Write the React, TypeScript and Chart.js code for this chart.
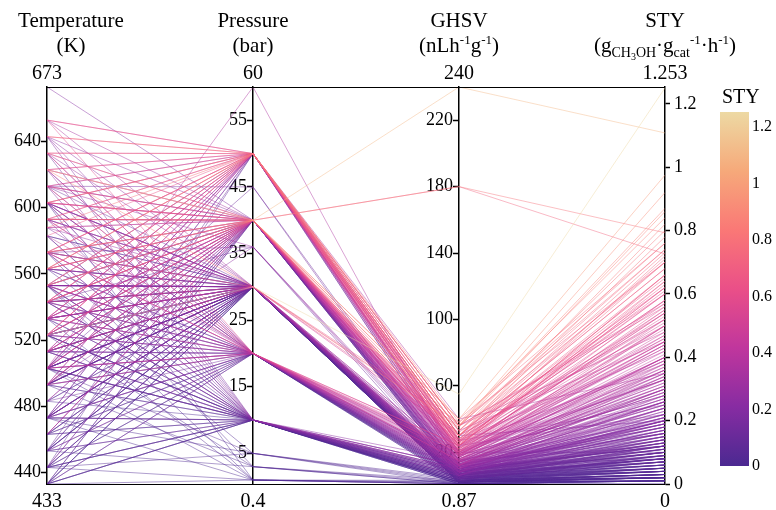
import React, { useEffect, useRef } from 'react';
import { Chart, registerables } from 'chart.js';

Chart.register(...registerables);

const FONT = "'Liberation Serif', 'Times New Roman', Times, serif";

// ---- axes ----
const axisTitles = ['Temperature', 'Pressure', 'GHSV', 'STY'];
const temperatureRange = [433, 673];
const pressureRange = [0.4, 60];
const ghsvRange = [0.87, 240];
const styRange = [0, 1.253];
const rangeTopLabels = ['673', '60', '240', '1.253'];
const rangeBottomLabels = ['433', '0.4', '0.87', '0'];
const temperatureTicks = [440, 480, 520, 560, 600, 640];
const pressureTicks = [5, 15, 25, 35, 45, 55];
const ghsvTicks = [20, 60, 100, 140, 180, 220];
const styTicks = [0, 0.2, 0.4, 0.6, 0.8, 1, 1.2];
const colorbarTicks = [0, 0.2, 0.4, 0.6, 0.8, 1, 1.2];

// ---- runs (one line per run) ----
const temperatureK = [
  503, 653, 633, 633, 623, 613, 603, 603, 593, 588,
  573, 573, 563, 553, 553, 543, 533, 533, 523, 513,
  503, 503, 493, 473, 473, 453, 443, 553, 523, 613,
  503, 673, 643, 623, 623, 603, 593, 593, 593, 588,
  573, 573, 563, 553, 553, 553, 543, 543, 533, 533,
  523, 523, 523, 513, 513, 503, 503, 493, 493, 473,
  473, 463, 453, 443, 433, 613, 633, 603, 588, 563,
  543, 573, 543, 493, 613, 623, 603, 603, 593, 588,
  573, 573, 563, 553, 553, 553, 543, 543, 533, 533,
  533, 523, 523, 523, 513, 513, 513, 503, 503, 503,
  493, 493, 493, 473, 473, 473, 463, 453, 453, 443,
  443, 433, 433, 643, 653, 613, 633, 583, 563, 543,
  523, 553, 533, 503, 513, 653, 633, 623, 613, 603,
  603, 593, 573, 573, 563, 553, 553, 543, 533, 533,
  523, 523, 513, 503, 503, 493, 493, 473, 473, 463,
  453, 443, 433, 588, 543, 643, 623, 603, 593, 573,
  573, 553, 553, 543, 533, 533, 523, 523, 513, 513,
  503, 503, 493, 493, 473, 473, 463, 453, 443, 443,
  433, 433, 553, 603, 513, 553, 503, 473, 443, 573,
  523, 493, 453, 603, 553, 533, 503, 473, 443, 433,
  563, 553, 543, 533, 523, 513, 503, 493, 483, 473,
  603, 593, 573, 553, 543, 523, 513, 503, 493, 463,
  623, 613, 603, 593, 573, 563, 553, 543, 533, 523,
  513, 503, 493, 483, 463, 643, 623, 603, 593, 573,
  563, 543, 523, 513, 493, 633, 613, 593, 573, 553,
  533, 513, 503, 483, 453, 583, 543, 523, 503, 463,
  // group A
  573, 563, 553, 543, 533, 523, 513, 503, 493, 483,
  473, 463, 453, 443, 433, 603, 593, 583, 553, 533,
  523, 503, 493, 473, 453,
  // group B
  653, 633, 613, 603, 593, 573, 563, 553, 543, 533,
  523, 513, 503, 493, 483, 473, 463, 453, 443, 433,
  // group C
  643, 623, 603, 583, 563, 553, 543, 523, 513, 503,
  493, 473, 463, 443, 433,
  // group D
  633, 613, 583, 563, 543, 523, 503, 483, 473, 453, 443, 433,
  // group E
  653, 643, 613, 583, 563, 543, 533, 503,
];

const pressureBar = [
  60, 50, 50, 50, 50, 50, 50, 50, 50, 50,
  50, 50, 50, 50, 50, 50, 50, 50, 50, 50,
  50, 50, 50, 50, 50, 50, 50, 50, 50, 45,
  45, 40, 40, 40, 40, 40, 40, 40, 40, 40,
  40, 40, 40, 40, 40, 40, 40, 40, 40, 40,
  40, 40, 40, 40, 40, 40, 40, 40, 40, 40,
  40, 40, 40, 40, 40, 40, 40, 40, 40, 40,
  40, 36, 36, 36, 36, 30, 30, 30, 30, 30,
  30, 30, 30, 30, 30, 30, 30, 30, 30, 30,
  30, 30, 30, 30, 30, 30, 30, 30, 30, 30,
  30, 30, 30, 30, 30, 30, 30, 30, 30, 30,
  30, 30, 30, 30, 30, 30, 30, 30, 30, 30,
  30, 30, 30, 30, 30, 20, 20, 20, 20, 20,
  20, 20, 20, 20, 20, 20, 20, 20, 20, 20,
  20, 20, 20, 20, 20, 20, 20, 20, 20, 20,
  20, 20, 20, 20, 20, 10, 10, 10, 10, 10,
  10, 10, 10, 10, 10, 10, 10, 10, 10, 10,
  10, 10, 10, 10, 10, 10, 10, 10, 10, 10,
  10, 10, 10, 10, 10, 5, 5, 5, 5, 3,
  3, 3, 3, 1, 1, 1, 1, 1, 1, 1,
  30, 30, 30, 30, 30, 30, 30, 30, 30, 30,
  30, 30, 30, 30, 30, 30, 30, 30, 30, 30,
  40, 40, 40, 40, 40, 40, 40, 40, 40, 40,
  40, 40, 40, 40, 40, 50, 50, 50, 50, 50,
  50, 50, 50, 50, 50, 20, 20, 20, 20, 20,
  20, 20, 20, 20, 20, 10, 10, 10, 10, 10,
  // group A
  30, 30, 30, 30, 30, 30, 30, 30, 30, 30,
  30, 30, 30, 30, 30, 30, 30, 30, 30, 30,
  30, 30, 30, 30, 30,
  // group B
  40, 40, 40, 40, 40, 40, 40, 40, 40, 40,
  40, 40, 40, 40, 40, 40, 40, 40, 40, 40,
  // group C
  20, 20, 20, 20, 20, 20, 20, 20, 20, 20,
  20, 20, 20, 20, 20,
  // group D
  10, 10, 10, 10, 10, 10, 10, 10, 10, 10, 10, 10,
  // group E
  50, 50, 50, 50, 50, 50, 50, 50,
];

const ghsv = [
  12, 24, 30, 20, 36, 27, 24, 40, 18, 30,
  24, 36, 20, 27, 15, 30, 24, 18, 36, 20,
  27, 12, 24, 15, 30, 20, 12, 36, 30, 6,
  10, 10, 12, 240, 18, 15, 24, 180, 180, 20,
  27, 36, 30, 12, 24, 40, 9, 20, 15, 27,
  6, 18, 33, 12, 24, 9, 20, 15, 30, 6,
  12, 18, 9, 15, 6, 24, 36, 30, 12, 8,
  40, 8, 5, 10, 12, 35, 8, 4, 6, 10,
  38, 5, 3, 8, 12, 2, 6, 32, 4, 10,
  6, 55, 8, 3, 5, 12, 36, 2, 6, 10,
  4, 8, 3, 2, 5, 10, 4, 6, 2, 3,
  8, 2, 5, 6, 10, 3, 8, 2, 12, 4,
  10, 5, 30, 4, 8, 20, 15, 8, 24, 5,
  12, 18, 10, 22, 4, 15, 6, 8, 20, 3,
  12, 5, 10, 15, 4, 8, 24, 6, 12, 3,
  8, 5, 10, 6, 18, 6, 10, 3, 8, 4,
  12, 2, 6, 10, 3, 8, 1, 5, 12, 2,
  4, 8, 6, 1, 3, 10, 2, 5, 1, 8,
  4, 2, 15, 12, 6, 2, 4, 1, 3, 2,
  1, 3, 1, 1, 2, 1, 3, 1, 2, 1,
  7, 9, 11, 14, 7, 9, 11, 5, 7, 9,
  14, 16, 11, 3, 7, 16, 4, 7, 11, 9,
  21, 17, 23, 14, 19, 26, 17, 28, 11, 23,
  16, 28, 7, 13, 21, 26, 22, 33, 28, 19,
  33, 22, 26, 17, 33, 11, 7, 14, 17, 9,
  13, 7, 19, 11, 14, 7, 5, 9, 3, 7,
  // group A
  3, 4, 6, 5, 8, 2, 6, 3, 5, 4,
  6, 3, 5, 2, 3, 9, 7, 4, 10, 13,
  6, 8, 2, 12, 4,
  // group B
  14, 19, 10, 22, 8, 16, 25, 13, 21, 18,
  10, 26, 14, 8, 19, 11, 23, 7, 13, 9,
  // group C
  9, 13, 4, 16, 7, 11, 2, 14, 6, 21,
  3, 9, 5, 2, 7,
  // group D
  4, 9, 5, 2, 7, 3, 6, 2, 4, 9, 3, 5,
  // group E
  21, 30, 14, 25, 38, 17, 28, 19,
];

const sty = [
  0.35, 0.62, 0.71, 0.55, 0.48, 0.58, 0.66, 0.35, 0.52, 0.78,
  0.60, 0.76, 0.45, 0.42, 0.30, 0.68, 0.38, 0.28, 0.57, 0.33,
  0.25, 0.18, 0.22, 0.12, 0.20, 0.10, 0.08, 0.87, 0.50, 0.15,
  0.12, 0.20, 0.25, 1.108, 0.45, 0.40, 0.55, 0.793, 0.726, 0.48,
  0.64, 0.92, 0.82, 0.30, 0.51, 0.975, 0.18, 0.36, 0.32, 0.58,
  0.10, 0.44, 0.70, 0.22, 0.47, 0.14, 0.40, 0.26, 0.62, 0.08,
  0.17, 0.28, 0.12, 0.20, 0.05, 0.66, 0.74, 0.68, 0.34, 0.16,
  0.76, 0.20, 0.12, 0.24, 0.28, 0.86, 0.22, 0.10, 0.15, 0.26,
  0.70, 0.12, 0.06, 0.19, 0.30, 0.04, 0.14, 0.60, 0.08, 0.21,
  0.11, 1.25, 0.17, 0.05, 0.09, 0.27, 0.56, 0.03, 0.13, 0.19,
  0.07, 0.16, 0.04, 0.02, 0.06, 0.15, 0.05, 0.08, 0.02, 0.03,
  0.10, 0.01, 0.04, 0.24, 0.34, 0.09, 0.28, 0.05, 0.36, 0.09,
  0.23, 0.11, 0.52, 0.07, 0.14, 0.58, 0.50, 0.26, 0.62, 0.14,
  0.38, 0.47, 0.30, 0.54, 0.09, 0.40, 0.13, 0.18, 0.44, 0.05,
  0.25, 0.08, 0.20, 0.32, 0.06, 0.14, 0.46, 0.09, 0.19, 0.03,
  0.11, 0.05, 0.12, 0.21, 0.36, 0.20, 0.26, 0.09, 0.17, 0.08,
  0.24, 0.03, 0.10, 0.16, 0.04, 0.12, 0.01, 0.06, 0.18, 0.02,
  0.05, 0.11, 0.07, 0.01, 0.03, 0.13, 0.02, 0.04, 0.01, 0.07,
  0.02, 0.01, 0.22, 0.21, 0.08, 0.02, 0.04, 0.01, 0.02, 0.03,
  0.01, 0.02, 0.01, 0.01, 0.01, 0.02, 0.01, 0.00, 0.01, 0.00,
  0.13, 0.18, 0.20, 0.25, 0.09, 0.12, 0.16, 0.06, 0.08, 0.11,
  0.29, 0.33, 0.23, 0.03, 0.10, 0.31, 0.04, 0.07, 0.14, 0.09,
  0.50, 0.42, 0.53, 0.37, 0.43, 0.60, 0.35, 0.66, 0.24, 0.49,
  0.30, 0.54, 0.11, 0.19, 0.33, 0.72, 0.64, 0.80, 0.70, 0.50,
  0.74, 0.54, 0.61, 0.40, 0.45, 0.33, 0.17, 0.35, 0.41, 0.20,
  0.27, 0.10, 0.37, 0.15, 0.16, 0.14, 0.07, 0.12, 0.03, 0.06,
  // group A
  0.05, 0.07, 0.12, 0.08, 0.15, 0.02, 0.10, 0.04, 0.07, 0.05,
  0.08, 0.03, 0.05, 0.02, 0.02, 0.20, 0.16, 0.06, 0.22, 0.26,
  0.11, 0.13, 0.03, 0.21, 0.04,
  // group B
  0.31, 0.40, 0.21, 0.46, 0.17, 0.34, 0.57, 0.29, 0.45, 0.38,
  0.19, 0.52, 0.27, 0.13, 0.33, 0.18, 0.39, 0.09, 0.16, 0.10,
  // group C
  0.24, 0.31, 0.07, 0.39, 0.15, 0.26, 0.02, 0.29, 0.10, 0.43,
  0.04, 0.13, 0.06, 0.02, 0.08,
  // group D
  0.12, 0.19, 0.08, 0.02, 0.10, 0.03, 0.07, 0.01, 0.04, 0.12, 0.02, 0.05,
  // group E
  0.56, 0.73, 0.36, 0.63, 0.84, 0.44, 0.65, 0.39,
];

// Agsunset colour scale
const agsunset = [
  [75, 41, 145], [135, 44, 162], [192, 54, 157], [234, 79, 136],
  [250, 120, 118], [246, 169, 122], [237, 217, 163],
];
const colorMin = 0;
const colorMax = 1.253;

function colorFor(v: number, alpha: number) {
  const t = Math.min(1, Math.max(0, (v - colorMin) / (colorMax - colorMin)));
  const pos = t * (agsunset.length - 1);
  const i = Math.min(agsunset.length - 2, Math.floor(pos));
  const f = pos - i;
  const c = agsunset[i].map((a, k) => Math.round(a + (agsunset[i + 1][k] - a) * f));
  return `rgba(${c[0]},${c[1]},${c[2]},${alpha})`;
}

const norm = (v: number, r: number[]) => (v - r[0]) / (r[1] - r[0]);

type Seg = { t: string; size: number; dy: number };
const unitLines: Seg[][] = [
  [{ t: '(K)', size: 21, dy: 0 }],
  [{ t: '(bar)', size: 21, dy: 0 }],
  [
    { t: '(nLh', size: 21, dy: 0 }, { t: '-1', size: 13, dy: -8 },
    { t: 'g', size: 21, dy: 0 }, { t: '-1', size: 13, dy: -8 }, { t: ')', size: 21, dy: 0 },
  ],
  [
    { t: '(g', size: 21, dy: 0 }, { t: 'CH', size: 14, dy: 5 }, { t: '3', size: 10, dy: 8 },
    { t: 'OH', size: 14, dy: 5 }, { t: '·g', size: 21, dy: 0 }, { t: 'cat', size: 14, dy: 5 },
    { t: '-1', size: 13, dy: -8 }, { t: '·h', size: 21, dy: 0 }, { t: '-1', size: 13, dy: -8 },
    { t: ')', size: 21, dy: 0 },
  ],
];

function drawRich(ctx: CanvasRenderingContext2D, segs: Seg[], cx: number, baseline: number) {
  let total = 0;
  for (const s of segs) {
    ctx.font = `${s.size}px ${FONT}`;
    total += ctx.measureText(s.t).width;
  }
  let x = cx - total / 2;
  ctx.textAlign = 'left';
  ctx.textBaseline = 'alphabetic';
  for (const s of segs) {
    ctx.font = `${s.size}px ${FONT}`;
    ctx.fillText(s.t, x, baseline + s.dy);
    x += ctx.measureText(s.t).width;
  }
}

const decorPlugin = {
  id: 'parcoordsDecor',
  afterDraw(chart: any) {
    const ctx: CanvasRenderingContext2D = chart.ctx;
    const xs = chart.scales.x;
    const { top, bottom, left, right } = chart.chartArea;
    ctx.save();
    ctx.strokeStyle = '#000';
    ctx.lineWidth = 1;
    ctx.beginPath();
    ctx.moveTo(left, Math.round(top) + 0.5);
    ctx.lineTo(right, Math.round(top) + 0.5);
    ctx.moveTo(left, Math.round(bottom) + 0.5);
    ctx.lineTo(right, Math.round(bottom) + 0.5);
    ctx.stroke();

    ctx.fillStyle = '#000';
    axisTitles.forEach((title, i) => {
      const ax = xs.getPixelForValue(i);
      const tcx = i === 0 ? ax + 24 : ax;
      ctx.font = `21px ${FONT}`;
      ctx.textAlign = 'center';
      ctx.textBaseline = 'alphabetic';
      ctx.fillText(title, tcx, 27);
      drawRich(ctx, unitLines[i], tcx, 52);
      ctx.font = `20px ${FONT}`;
      ctx.textAlign = 'center';
      ctx.fillText(rangeTopLabels[i], ax, 79);
      ctx.fillText(rangeBottomLabels[i], ax, 507);
    });

    // colorbar
    const cbL = 720, cbR = 749, cbT = 112, cbB = 466;
    const grad = ctx.createLinearGradient(0, cbB, 0, cbT);
    agsunset.forEach((c, k) => grad.addColorStop(k / (agsunset.length - 1), `rgb(${c[0]},${c[1]},${c[2]})`));
    ctx.fillStyle = grad;
    ctx.fillRect(cbL, cbT, cbR - cbL, cbB - cbT);
    ctx.fillStyle = '#000';
    ctx.font = `20px ${FONT}`;
    ctx.textAlign = 'left';
    ctx.textBaseline = 'alphabetic';
    ctx.fillText('STY', 722, 103);
    ctx.font = `16px ${FONT}`;
    ctx.textBaseline = 'middle';
    colorbarTicks.forEach((v) => {
      const y = cbB - ((v - colorMin) / (colorMax - colorMin)) * (cbB - cbT);
      ctx.fillText(String(v), 752, y);
    });
    ctx.restore();
  },
};

const makeAxis = (range: number[], ticks: number[], position: any, gap: string) => ({
  type: 'linear' as const,
  axis: 'y' as const,
  position,
  min: range[0],
  max: range[1],
  z: 1,
  afterBuildTicks: (s: any) => {
    s.ticks = ticks.map((v) => ({ value: v }));
  },
  grid: {
    display: true,
    drawOnChartArea: false,
    drawTicks: true,
    tickLength: 5,
    tickWidth: 1.5,
    tickColor: '#000',
  },
  border: { display: true, color: '#000', width: 1.5 },
  ticks: {
    color: '#000',
    padding: 2,
    font: { family: FONT, size: 18 },
    autoSkip: false,
    callback: (v: any) => String(v) + gap,
  },
});

export default function App() {
  const ref = useRef<HTMLCanvasElement | null>(null);
  useEffect(() => {
    if (!ref.current) return;
    const idx = sty.map((_, i) => i).sort((a, b) => sty[b] - sty[a]);
    const datasets = idx.map((i) => ({
      data: [
        { x: 0, y: norm(temperatureK[i], temperatureRange) },
        { x: 1, y: norm(pressureBar[i], pressureRange) },
        { x: 2, y: norm(ghsv[i], ghsvRange) },
        { x: 3, y: norm(sty[i], styRange) },
      ],
      borderColor: colorFor(sty[i], 0.45),
      borderWidth: 1,
      pointRadius: 0,
      fill: false,
      tension: 0,
      yAxisID: 'y',
      xAxisID: 'x',
    }));
    const yS: any = makeAxis(styRange, styTicks, 'right', '');
    yS.ticks.padding = 4;
    yS.afterFit = (s: any) => {
      s.width = 60;
    };
    const chart = new Chart(ref.current, {
      type: 'line',
      data: { datasets },
      options: {
        animation: false,
        responsive: false,
        devicePixelRatio: 1,
        events: [],
        layout: { padding: { left: 47, top: 87, right: 776 - 665 - 60, bottom: 510 - 484 } },
        plugins: { legend: { display: false }, tooltip: { enabled: false } },
        scales: {
          x: { type: 'linear', min: 0, max: 3, display: false },
          y: { type: 'linear', min: 0, max: 1, display: false },
          yT: makeAxis(temperatureRange, temperatureTicks, { x: 0 }, '\u2004'),
          yP: makeAxis(pressureRange, pressureTicks, { x: 1 }, '\u2004'),
          yG: makeAxis(ghsvRange, ghsvTicks, { x: 2 }, '\u2004'),
          yS,
        } as any,
      },
      plugins: [decorPlugin],
    });
    return () => chart.destroy();
  }, []);
  return (
    <div style={{ position: 'fixed', left: 0, top: 0, width: 776, height: 510, background: '#fff' }}>
      <canvas ref={ref} width={776} height={510} style={{ display: 'block', width: 776, height: 510 }} />
    </div>
  );
}
